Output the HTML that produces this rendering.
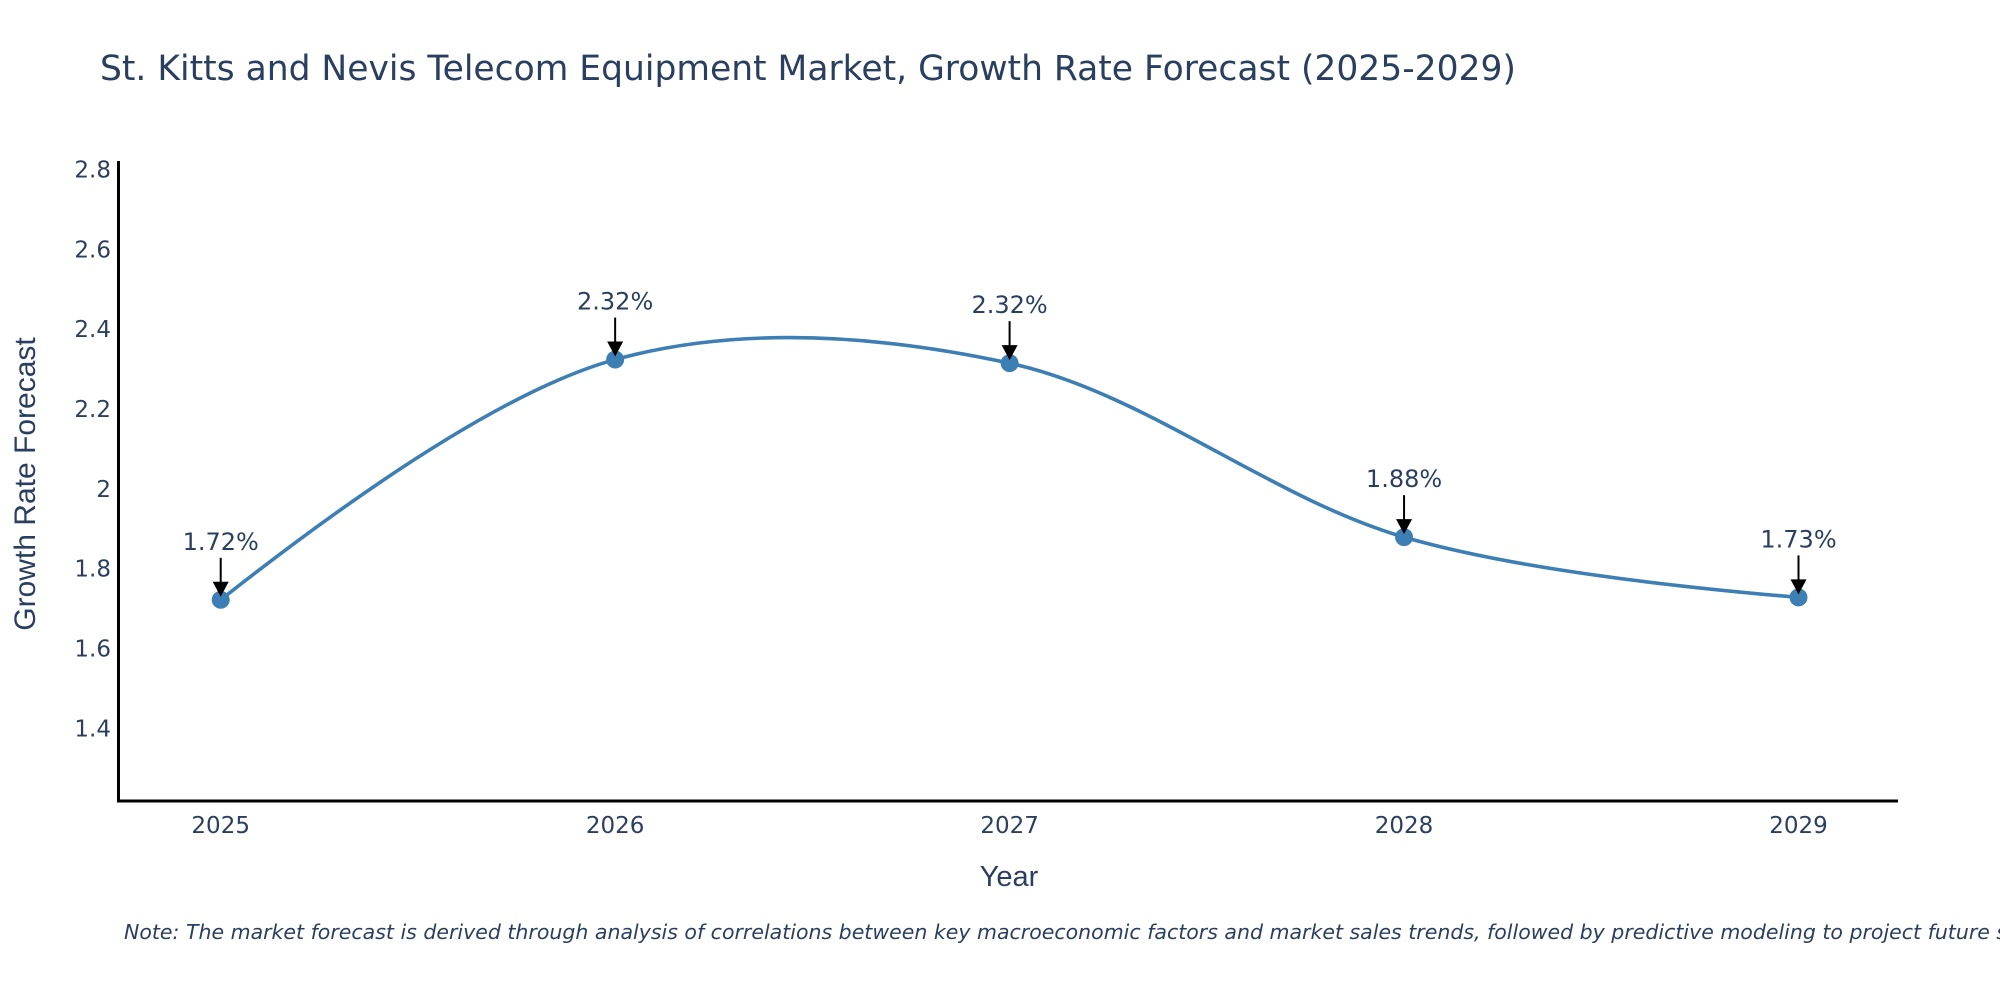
<!DOCTYPE html>
<html><head><meta charset="utf-8"><style>
html,body{margin:0;padding:0;background:#fff;}
svg text{font-family:"DejaVu Sans","Liberation Sans",sans-serif;fill:#2a3f5f;}
svg text.lib{font-family:"Liberation Sans","DejaVu Sans",sans-serif;}
</style></head><body>
<svg id="chart" width="2000" height="1000" xmlns="http://www.w3.org/2000/svg">
<rect width="2000" height="1000" fill="#fff"/>
<text x="100" y="80" font-size="34.5">St. Kitts and Nevis Telecom Equipment Market, Growth Rate Forecast (2025-2029)</text>
<g id="yticks"></g>
<g id="xticks"></g>
<line x1="118.5" y1="161" x2="118.5" y2="802" stroke="#000" stroke-width="3"/>
<line x1="117" y1="801" x2="1898" y2="801" stroke="#000" stroke-width="3"/>
<g id="series"></g>
<g id="annots"></g>
<text class="lib" x="1009" y="886" font-size="29" text-anchor="middle">Year</text>
<text class="lib" x="0" y="0" font-size="30" text-anchor="middle" transform="translate(35,484) rotate(-90)">Growth Rate Forecast</text>
<text x="124" y="939" font-size="20.5" font-style="italic">Note: The market forecast is derived through analysis of correlations between key macroeconomic factors and market sales trends, followed by predictive modeling to project future sales.</text>
</svg>
<script>
const categories = ["2025","2026","2027","2028","2029"];
const values = [1.722, 2.324, 2.315, 1.879, 1.728];
const labels = ["1.72%","2.32%","2.32%","1.88%","1.73%"];
const yTicks = [1.4, 1.6, 1.8, 2.0, 2.2, 2.4, 2.6, 2.8];
const yTickLabels = ["1.4","1.6","1.8","2","2.2","2.4","2.6","2.8"];

const NS = "http://www.w3.org/2000/svg";
function yScale(v){ return 728.3 - (v - 1.4) * (558.7 / 1.4); }
function xScale(i){ return 220.7 + i * 394.45; }
function mk(tag, attrs, parent){ const e = document.createElementNS(NS, tag); for (const k in attrs) e.setAttribute(k, attrs[k]); parent.appendChild(e); return e; }

const yg = document.getElementById('yticks');
yTicks.forEach((t, i) => {
  const e = mk('text', {x: 111, y: yScale(t) + 8, 'font-size': 23, 'text-anchor': 'end'}, yg);
  
  
  e.textContent = yTickLabels[i];
});
const xg = document.getElementById('xticks');
categories.forEach((c, i) => {
  const e = mk('text', {x: xScale(i), y: 833, 'font-size': 23, 'text-anchor': 'middle'}, xg);
  
  
  e.textContent = c;
});

const pts = values.map((v, i) => [xScale(i), yScale(v)]);
function tangent(p0, p1, p2, s){
  const d1x = p0[0]-p1[0], d1y = p0[1]-p1[1], d2x = p2[0]-p1[0], d2y = p2[1]-p1[1];
  const d1a = Math.pow(d1x*d1x + d1y*d1y, 0.25), d2a = Math.pow(d2x*d2x + d2y*d2y, 0.25);
  const nx = (d2a*d2a*d1x - d1a*d1a*d2x) * s, ny = (d2a*d2a*d1y - d1a*d1a*d2y) * s;
  const den1 = 3*d2a*(d1a+d2a), den2 = 3*d1a*(d1a+d2a);
  return [[p1[0]+nx/den1, p1[1]+ny/den1], [p1[0]-nx/den2, p1[1]-ny/den2]];
}
const tg = [];
for (let i = 1; i < pts.length - 1; i++) tg.push(tangent(pts[i-1], pts[i], pts[i+1], 1));
let d = 'M' + pts[0] + 'Q' + tg[0][0] + ' ' + pts[1];
for (let i = 1; i < pts.length - 2; i++) d += 'C' + tg[i-1][1] + ' ' + tg[i][0] + ' ' + pts[i+1];
d += 'Q' + tg[tg.length-1][1] + ' ' + pts[pts.length-1];
const sg = document.getElementById('series');
const line = mk('path', {d: d, fill: 'none', stroke: '#3d7fb4', 'stroke-width': 3.6}, sg);


pts.forEach((p, i) => {
  const c = mk('circle', {cx: p[0], cy: p[1], r: 9, fill: '#3d7fb4'}, sg);
  
  
});

const ag = document.getElementById('annots');
pts.forEach((p, i) => {
  const g = mk('g', {}, ag);
  
  
  mk('line', {x1: p[0], y1: p[1]-42, x2: p[0], y2: p[1]-14, stroke: '#000', 'stroke-width': 2}, g);
  mk('path', {d: `M${p[0]-8},${p[1]-18} L${p[0]+8},${p[1]-18} L${p[0]},${p[1]-3} Z`, fill: '#000'}, g);
  const t = mk('text', {x: p[0], y: p[1]-50, 'font-size': 24, 'text-anchor': 'middle'}, g);
  t.textContent = labels[i];
});
</script>
</body></html>
